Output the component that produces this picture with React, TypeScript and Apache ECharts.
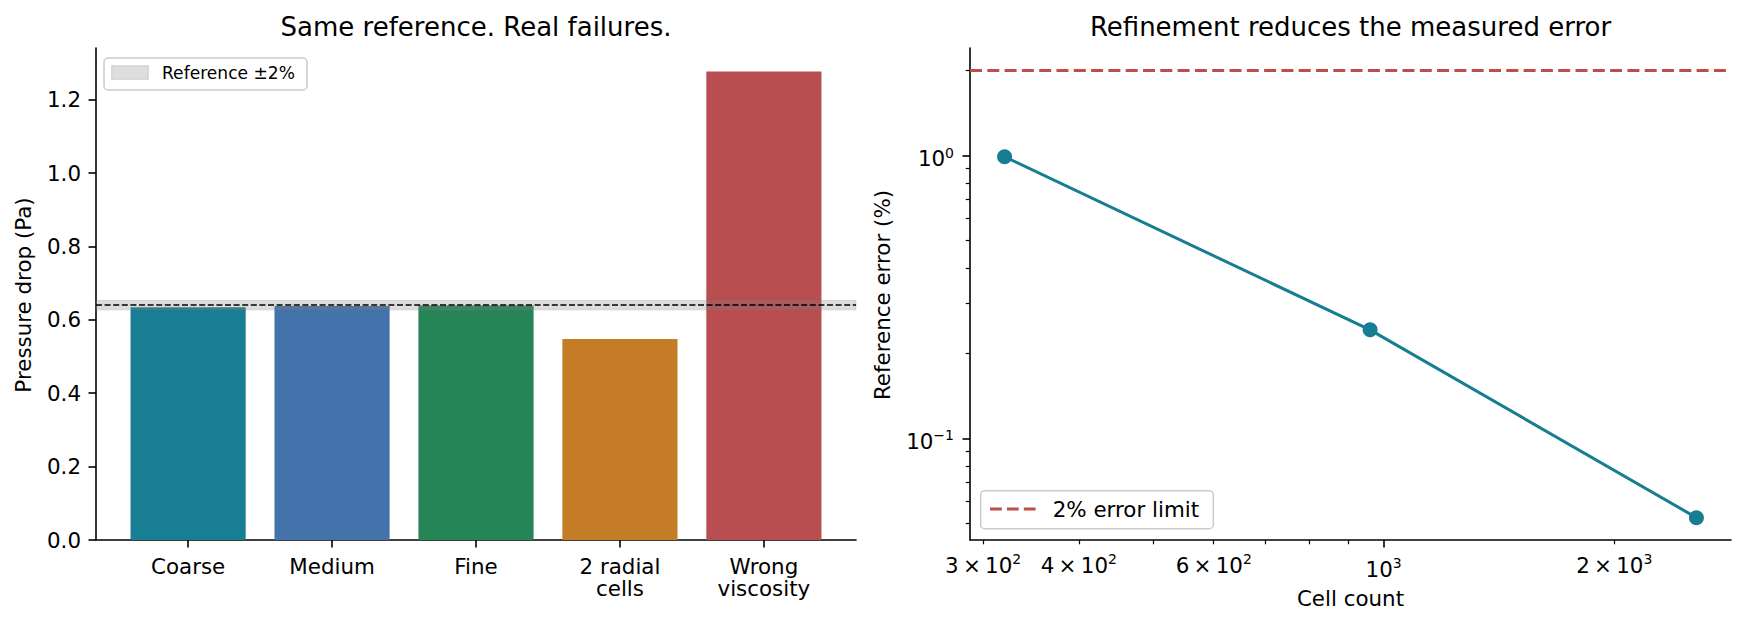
import { useEffect, useRef } from 'react'
import * as echarts from 'echarts'

// left panel: pressure drop per case
const categories = ['Coarse', 'Medium', 'Fine', '2 radial\ncells', 'Wrong\nviscosity']
const pressureDrop = [0.634, 0.638, 0.639, 0.548, 1.277]
const barColors = ['#187e93', '#4472ab', '#268557', '#c57c26', '#b84e50']
const referenceDrop = 0.64
const referenceTolerance = 0.02
const pressureTicks = [0, 0.2, 0.4, 0.6, 0.8, 1.0, 1.2]

// right panel: error against cell count (log-log)
const cellCounts = [320, 960, 2560]
const referenceError = [0.99, 0.242, 0.0525]
const errorLimit = 2
const cellMajorTicks = [1000]
const cellMinorTicks = [300, 400, 500, 600, 700, 800, 900, 2000]
const cellMinorLabels = [300, 400, 600, 2000]
const errorMajorTicks = [0.1, 1]
const errorMinorTicks = [0.05, 0.06, 0.07, 0.08, 0.09, 0.2, 0.3, 0.4, 0.5, 0.6, 0.7, 0.8, 0.9, 2]

const FONT = 'DejaVu Sans'
const TICK_FS = 21.4
const INK = '#000000'
const TEAL = '#177d92'
const LIMIT_RED = '#c04d4d'

const log = (v: number) => Math.log10(v)

// matplotlib-like 5% margins in log space
function logExtent(values: number[]) {
  const lo = log(Math.min(...values))
  const hi = log(Math.max(...values))
  const pad = (hi - lo) * 0.05
  return [lo - pad, hi + pad]
}

function sciLabel(v: number) {
  const n = Number(Math.pow(10, v).toPrecision(3))
  const exp = Math.floor(log(n) + 1e-9)
  const mant = Math.round(n / Math.pow(10, exp))
  const e = String(exp).replace('-', '\u2212')
  if (mant === 1) return `{b|10}{s|${e}}`
  return `{b|${mant}\u2009\u00d7\u200910}{s|${e}}`
}

const sciRich = {
  b: { fontSize: TICK_FS, fontFamily: FONT, color: INK, lineHeight: 22 },
  s: { fontSize: 14, fontFamily: FONT, color: INK, lineHeight: 22, padding: [0, 0, 12, 0] },
}

export default function App() {
  const chartRef = useRef<HTMLDivElement>(null)

  useEffect(() => {
    if (!chartRef.current) return
    document.body.style.margin = '0'
    const chart = echarts.init(chartRef.current, null, { renderer: 'svg' })

    const pressureMax = Math.max(...pressureDrop) * 1.05
    const [xLo, xHi] = logExtent(cellCounts)
    const [yLo, yHi] = logExtent([...referenceError, errorLimit])

    const spine = { show: true, onZero: false, lineStyle: { color: INK, width: 1.6 } }
    const majorTick = { show: true, length: 7.5, lineStyle: { color: INK, width: 1.6 } }
    const minorTick = { show: true, length: 4.3, lineStyle: { color: INK, width: 1.2 } }

    const option: echarts.EChartsOption = {
      animation: false,
      textStyle: { fontFamily: FONT },
      grid: [
        { left: 96, right: 890, top: 48, bottom: 86 },
        { left: 116.15, right: 910.15, top: 48, bottom: 86 },
        { left: 970, right: 15, top: 48, bottom: 86 },
      ],
      xAxis: [
        {
          gridIndex: 0,
          type: 'value',
          min: 0,
          max: 1,
          axisLine: spine,
          axisTick: { show: false },
          axisLabel: { show: false },
          splitLine: { show: false },
        },
        {
          gridIndex: 1,
          type: 'category',
          data: categories,
          axisLine: { show: false, onZero: false },
          axisTick: { ...majorTick, alignWithLabel: true },
          axisLabel: {
            interval: 0,
            margin: 15,
            fontSize: TICK_FS,
            lineHeight: 22.5,
            color: INK,
            fontFamily: FONT,
          },
          splitLine: { show: false },
        },
        {
          gridIndex: 2,
          type: 'value',
          position: 'bottom',
          min: xLo,
          max: xHi,
          axisLine: spine,
          axisTick: { ...majorTick, customValues: cellMajorTicks.map(log) },
          axisLabel: {
            customValues: cellMajorTicks.map(log),
            margin: 18,
            formatter: (v: number) => sciLabel(v),
            rich: sciRich,
          },
          splitLine: { show: false },
        },
        {
          gridIndex: 2,
          type: 'value',
          position: 'bottom',
          offset: 0,
          min: xLo,
          max: xHi,
          axisLine: { show: false, onZero: false },
          axisTick: { ...minorTick, customValues: cellMinorTicks.map(log) },
          axisLabel: {
            customValues: cellMinorLabels.map(log),
            margin: 14,
            formatter: (v: number) => sciLabel(v),
            rich: sciRich,
          },
          splitLine: { show: false },
        },
      ],
      yAxis: [
        {
          gridIndex: 0,
          type: 'value',
          min: 0,
          max: pressureMax,
          axisLine: spine,
          axisTick: { ...majorTick, customValues: pressureTicks },
          axisLabel: {
            customValues: pressureTicks,
            formatter: (v: number) => v.toFixed(1),
            margin: 15,
            fontSize: TICK_FS,
            color: INK,
            fontFamily: FONT,
            padding: [6, 0, 0, 0],
          },
          splitLine: { show: false },
        },
        {
          gridIndex: 1,
          type: 'value',
          min: 0,
          max: pressureMax,
          show: false,
          splitLine: { show: false },
        },
        {
          gridIndex: 2,
          type: 'value',
          position: 'left',
          min: yLo,
          max: yHi,
          axisLine: spine,
          axisTick: { ...majorTick, customValues: errorMajorTicks.map(log) },
          axisLabel: {
            customValues: errorMajorTicks.map(log),
            margin: 16,
            padding: [6, 0, 0, 0],
            formatter: (v: number) => sciLabel(v),
            rich: sciRich,
          },
          splitLine: { show: false },
        },
        {
          gridIndex: 2,
          type: 'value',
          position: 'left',
          offset: 0,
          min: yLo,
          max: yHi,
          axisLine: { show: false, onZero: false },
          axisTick: { ...minorTick, customValues: errorMinorTicks.map(log) },
          axisLabel: { show: false },
          splitLine: { show: false },
        },
      ],
      series: [
        {
          type: 'bar',
          xAxisIndex: 1,
          yAxisIndex: 1,
          barWidth: 115.15,
          z: 2,
          data: pressureDrop.map((v, i) => ({ value: v, itemStyle: { color: barColors[i] } })),
        },
        {
          // reference band and line across the full axes width
          type: 'line',
          xAxisIndex: 0,
          yAxisIndex: 0,
          z: 3,
          silent: true,
          symbol: 'none',
          data: [[0.5, referenceDrop]],
          markArea: {
            z: 3,
            silent: true,
            itemStyle: {
              color: 'rgba(128,128,128,0.27)',
              borderColor: 'rgba(128,128,128,0.25)',
              borderWidth: 1,
            },
            data: [
              [
                { yAxis: referenceDrop * (1 - referenceTolerance) },
                { yAxis: referenceDrop * (1 + referenceTolerance) },
              ],
            ],
          },
          markLine: {
            z: 4,
            silent: true,
            symbol: ['none', 'none'],
            label: { show: false },
            lineStyle: { color: INK, width: 1.7, type: [6, 2.6] },
            data: [{ yAxis: referenceDrop }],
          },
        },
        {
          type: 'line',
          xAxisIndex: 2,
          yAxisIndex: 2,
          symbol: 'circle',
          symbolSize: 15,
          itemStyle: { color: TEAL },
          lineStyle: { color: TEAL, width: 3 },
          data: cellCounts.map((c, i) => [log(c), log(referenceError[i])]),
          markLine: {
            silent: true,
            symbol: ['none', 'none'],
            label: { show: false },
            lineStyle: { color: LIMIT_RED, width: 3.2, type: [12, 5.3] },
            data: [{ yAxis: log(errorLimit) }],
          },
        },
      ],
      graphic: {
        elements: [
          {
            type: 'text',
            x: 476,
            y: 26.7,
            z: 100,
            style: {
              text: 'Same reference. Real failures.',
              fontSize: 26,
              fontFamily: FONT,
              fill: INK,
              textAlign: 'center',
              textVerticalAlign: 'middle',
            },
          },
          {
            type: 'text',
            x: 1350.5,
            y: 26.7,
            z: 100,
            style: {
              text: 'Refinement reduces the measured error',
              fontSize: 26,
              fontFamily: FONT,
              fill: INK,
              textAlign: 'center',
              textVerticalAlign: 'middle',
            },
          },
          {
            type: 'text',
            x: 23,
            y: 295,
            rotation: Math.PI / 2,
            z: 100,
            style: {
              text: 'Pressure drop (Pa)',
              fontSize: TICK_FS,
              fontFamily: FONT,
              fill: INK,
              textAlign: 'center',
              textVerticalAlign: 'middle',
            },
          },
          {
            type: 'text',
            x: 882,
            y: 295,
            rotation: Math.PI / 2,
            z: 100,
            style: {
              text: 'Reference error (%)',
              fontSize: TICK_FS,
              fontFamily: FONT,
              fill: INK,
              textAlign: 'center',
              textVerticalAlign: 'middle',
            },
          },
          {
            type: 'text',
            x: 1350.5,
            y: 598.6,
            z: 100,
            style: {
              text: 'Cell count',
              fontSize: TICK_FS,
              fontFamily: FONT,
              fill: INK,
              textAlign: 'center',
              textVerticalAlign: 'middle',
            },
          },
          // left legend
          {
            type: 'rect',
            z: 100,
            shape: { x: 104, y: 58, width: 203, height: 32, r: 4 },
            style: { fill: 'rgba(255,255,255,0.8)', stroke: '#cccccc', lineWidth: 1.5 },
          },
          {
            type: 'rect',
            z: 101,
            shape: { x: 111.7, y: 65.7, width: 36.6, height: 13.6 },
            style: { fill: 'rgba(128,128,128,0.26)', stroke: 'rgba(128,128,128,0.3)', lineWidth: 1 },
          },
          {
            type: 'text',
            x: 162,
            y: 73,
            z: 101,
            style: {
              text: 'Reference \u00b12%',
              fontSize: 17.1,
              fontFamily: FONT,
              fill: INK,
              textAlign: 'left',
              textVerticalAlign: 'middle',
            },
          },
          // right legend
          {
            type: 'rect',
            z: 100,
            shape: { x: 980.7, y: 490.7, width: 232.6, height: 38, r: 4 },
            style: { fill: 'rgba(255,255,255,0.8)', stroke: '#cccccc', lineWidth: 1.5 },
          },
          {
            type: 'line',
            z: 101,
            shape: { x1: 990, y1: 509, x2: 1036, y2: 509 },
            style: { stroke: LIMIT_RED, lineWidth: 3.2, lineDash: [11.8, 5.1] },
          },
          {
            type: 'text',
            x: 1052.7,
            y: 509,
            z: 101,
            style: {
              text: '2% error limit',
              fontSize: TICK_FS,
              fontFamily: FONT,
              fill: INK,
              textAlign: 'left',
              textVerticalAlign: 'middle',
            },
          },
        ],
      },
    }

    chart.setOption(option)

    return () => {
      chart.dispose()
    }
  }, [])

  return <div ref={chartRef} style={{ width: 1746, height: 626 }} />
}
